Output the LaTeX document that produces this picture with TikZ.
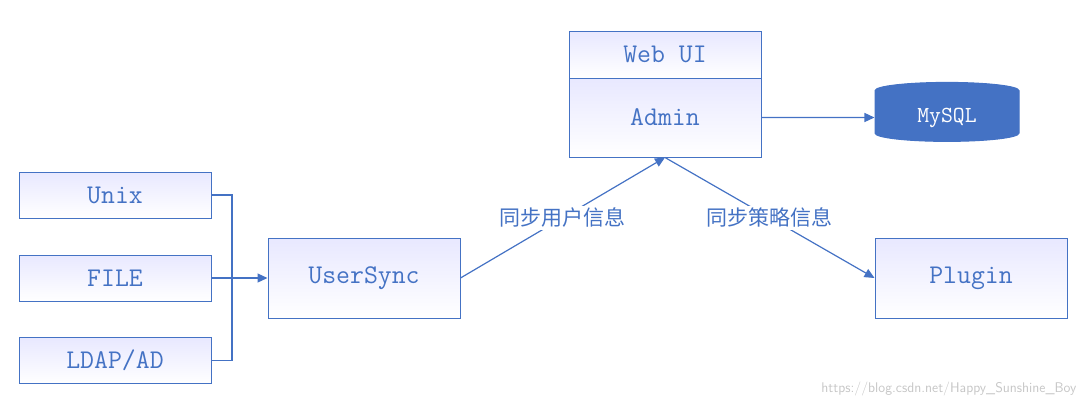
\documentclass[tikz,border=0pt]{standalone}
\usepackage{fontspec}
\newfontfamily\cjk{Noto Sans CJK SC}
\usetikzlibrary{shapes.geometric,arrows.meta}
\definecolor{boxblue}{RGB}{68,114,196}
\tikzset{
  box/.style={draw=boxblue,line width=1pt,top color=blue!9!white,bottom color=white,
    minimum width=192pt,minimum height=46pt,inner sep=0pt,font=\ttfamily\fontsize{27}{27}\selectfont,text=boxblue},
  big/.style={box,minimum height=80pt},
  link/.style={draw=boxblue,line width=1.2pt},
  arr/.style={link,-{Triangle[length=10pt,width=9pt]}},
  lbl/.style={fill=white,inner sep=2pt,font=\cjk\fontsize{21}{21}\selectfont,text=boxblue}
}
\begin{document}
\begin{tikzpicture}[x=1pt,y=-1pt]
  \useasboundingbox (0,0) rectangle (1088,408);

  \node[box] (unix) at (115,195) {Unix};
  \node[box] (file) at (115,278) {FILE};
  \node[box] (ldap) at (115,360.5) {LDAP/AD};
  \node[big] (usersync) at (364,278) {UserSync};
  \node[box,minimum height=47pt] (webui) at (665,54.5) {Web UI};
  \node[box,minimum height=79pt] (admin) at (665,117.5) {Admin};
  \node[cylinder,shape border rotate=90,aspect=0.25,draw=boxblue,fill=boxblue,line width=1pt,
    minimum width=144pt,minimum height=59pt,text=white,font=\ttfamily\fontsize{23}{23}\selectfont] (mysql) at (947,117.5) {MySQL};
  \node[big] (plugin) at (971,278) {Plugin};
  \coordinate (trunk) at (232,278);

  \draw[link] (unix.east) -| (trunk);
  \draw[link] (ldap.east) -| (trunk);
  \draw[arr] (file.east) -- (usersync.west);
  \draw[arr] (usersync.east) -- node[lbl] {同步用户信息} (admin.south);
  \draw[arr] (admin.south) -- node[lbl] {同步策略信息} (plugin.west);
  \draw[arr] (admin.east) -- (mysql.west);

  \node[text=gray!45,font=\fontsize{14}{14}\selectfont\sffamily,anchor=east] (mark) at (1080,389) {https://blog.csdn.net/Happy\_Sunshine\_Boy};
\end{tikzpicture}
\end{document}
